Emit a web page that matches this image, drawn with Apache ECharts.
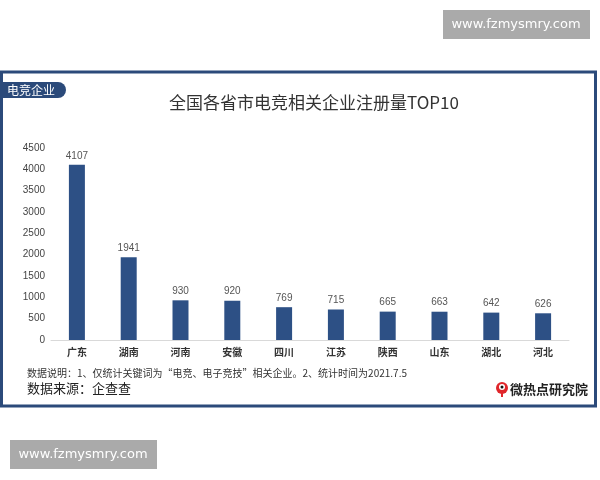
<!DOCTYPE html>
<html><head><meta charset="utf-8">
<script src="https://cdn.jsdelivr.net/npm/echarts@6/dist/echarts.min.js"></script>
<style>html,body{margin:0;padding:0;background:#fff}#c{width:600px;height:480px}</style>
</head><body><div id="c"></div>
<script>
const categories = ['广东','湖南','河南','安徽','四川','江苏','陕西','山东','湖北','河北'];
const values = [4107,1941,930,920,769,715,665,663,642,626];
const yTicks = [0,500,1000,1500,2000,2500,3000,3500,4000,4500];
const FONT = '"Noto Sans CJK SC", "Noto Sans", sans-serif';
const blue = '#2d5085';
const chart = echarts.init(document.getElementById('c'), null, {renderer:'canvas'});
chart.setOption({
  animation:false,
  textStyle:{fontFamily:FONT},
  title:{text:'全国各省市电竞相关企业注册量TOP10', left:309, textAlign:'center', top:89,
    textStyle:{fontSize:17, fontWeight:'normal', color:'#333', fontFamily:FONT}},
  grid:{left:51, right:31, top:148, bottom:140},
  xAxis:{type:'category', data:categories,
    axisLine:{lineStyle:{color:'#d9d9d9'}}, axisTick:{show:false},
    axisLabel:{color:'#333', fontSize:10, fontWeight:'bold', margin:7, fontFamily:FONT}},
  yAxis:{type:'value', min:0, max:4500, interval:500,
    axisLine:{show:false}, axisTick:{show:false}, splitLine:{show:false},
    axisLabel:{color:'#444', fontSize:10, margin:6, fontFamily:'"Liberation Sans", Arial, sans-serif',
      formatter:v=> yTicks.includes(v)? String(v):''}},
  series:[{type:'bar', data:values, barWidth:16,
    itemStyle:{color:blue},
    label:{show:true, position:'top', distance:4, color:'#555', fontSize:10, fontFamily:'"Liberation Sans", Arial, sans-serif'}}],
  graphic:[
    {type:'rect', shape:{x:1.5, y:72, width:594, height:334}, style:{fill:'none', stroke:'#2b4a7a', lineWidth:3}, z:-1},
    {type:'rect', shape:{x:3, y:82, width:63, height:16, r:[0,8,8,0]}, style:{fill:'#2b4a7a'}},
    {type:'text', x:7, y:90, style:{text:'电竞企业', fill:'#fff', fontSize:12, fontFamily:FONT, verticalAlign:'middle'}},
    {type:'text', x:27, y:373, style:{text:'数据说明：1、仅统计关键词为“电竞、电子竞技”相关企业。2、统计时间为2021.7.5', fill:'#333', fontSize:10, fontFamily:FONT, verticalAlign:'middle'}},
    {type:'text', x:27, y:388, style:{text:'数据来源：企查查', fill:'#222', fontSize:13, fontFamily:FONT, verticalAlign:'middle'}},
    {type:'circle', shape:{cx:502, cy:388, r:6}, style:{fill:'#e0262b'}},
    {type:'circle', shape:{cx:502, cy:387, r:3}, style:{fill:'#fff'}},
    {type:'circle', shape:{cx:502, cy:387, r:1.5}, style:{fill:'#111'}},
    {type:'rect', shape:{x:501, y:391, width:2, height:6}, style:{fill:'#e0262b'}},
    {type:'text', x:510, y:389, style:{text:'微热点研究院', fill:'#222', fontSize:13, fontWeight:'bold', fontFamily:FONT, verticalAlign:'middle'}},
    {type:'rect', shape:{x:443, y:10, width:147, height:29}, style:{fill:'#aaaaaa'}},
    {type:'text', x:516, y:25, style:{text:'www.fzmysmry.com', fill:'#fff', fontSize:13, fontFamily:'"DejaVu Sans", sans-serif', align:'center', verticalAlign:'middle'}},
    {type:'rect', shape:{x:10, y:440, width:147, height:29}, style:{fill:'#aaaaaa'}},
    {type:'text', x:83, y:455, style:{text:'www.fzmysmry.com', fill:'#fff', fontSize:13, fontFamily:'"DejaVu Sans", sans-serif', align:'center', verticalAlign:'middle'}}
  ]
});
</script></body></html>
